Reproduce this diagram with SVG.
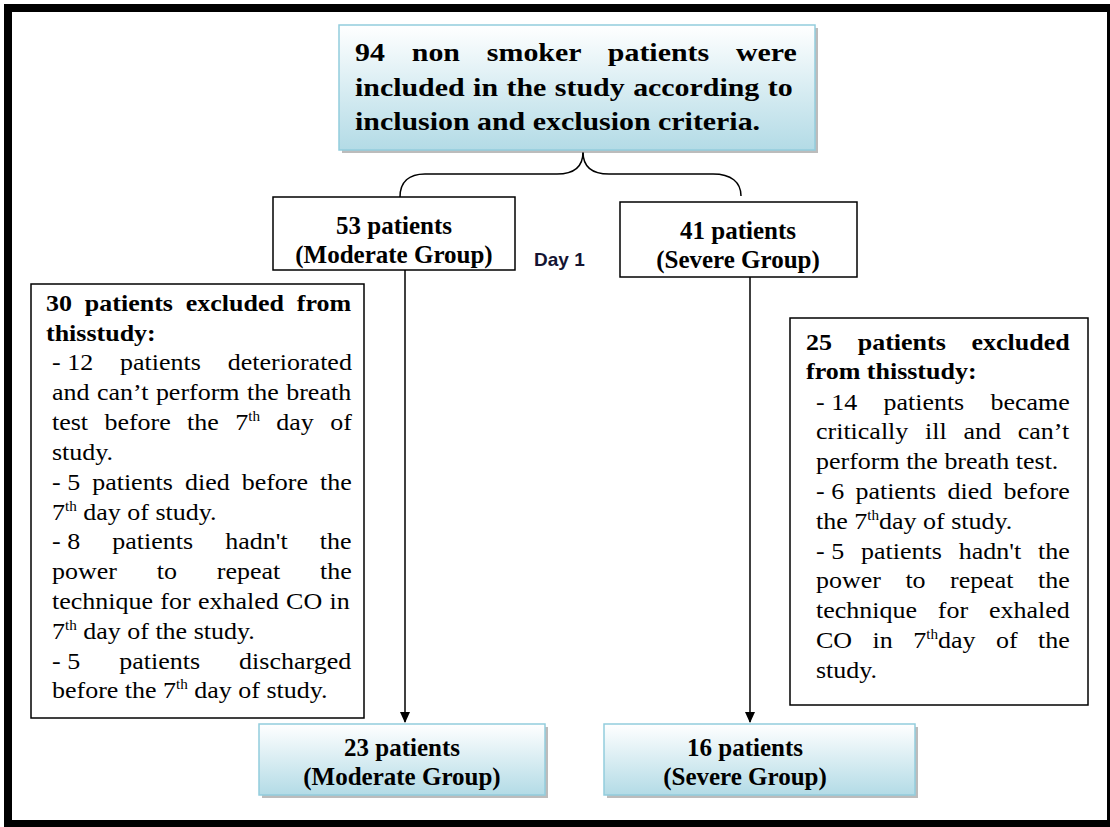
<svg xmlns="http://www.w3.org/2000/svg" width="1110" height="827" viewBox="0 0 1110 827">
<defs>
<linearGradient id="blueGrad" x1="0" y1="0" x2="0" y2="1">
<stop offset="0" stop-color="#ffffff"/>
<stop offset="1" stop-color="#b3dbe6"/>
</linearGradient>
<marker id="arrow" markerWidth="12" markerHeight="14" refX="10" refY="6" orient="auto" markerUnits="userSpaceOnUse">
<path d="M0,1 L11,6 L0,11 Z" fill="#000"/>
</marker>
</defs>
<style>
.blue{fill:url(#blueGrad);stroke:#93cddd;stroke-width:1.5}
.shadow{fill:#8f8f8f;opacity:0.6}
.plain{fill:#fff;stroke:#000;stroke-width:1.5}
.t{font-family:"Liberation Serif","Times New Roman",serif;fill:#000}
.b{font-weight:bold}
.body{font-size:24px}
.box{font-size:25px;font-weight:bold;text-anchor:middle}
.top{font-size:26px;font-weight:bold}
.day{font-family:"Liberation Sans",Arial,sans-serif;font-weight:bold;font-size:19px;fill:#141432}
.sup{font-size:14px}
.dash{word-spacing:0}
.conn{fill:none;stroke:#000;stroke-width:1.5}
</style>
<rect x="4" y="4" width="1106" height="823" fill="#000"/>
<rect x="12" y="12" width="1095" height="808" fill="#fff"/>

<g id="connectors">
<path class="conn" d="M583,152 C583,166 575,174 557,174 L425,174 C409,174 400,182 400,197"/>
<path class="conn" d="M583,152 C583,166 591,174 609,174 L713,174 C731,174 741,182 741,196"/>
<line class="conn" x1="405" y1="270" x2="405" y2="722" marker-end="url(#arrow)"/>
<line class="conn" x1="750" y1="277" x2="750" y2="722" marker-end="url(#arrow)"/>
</g>

<g id="node-top">
<rect class="shadow" x="342" y="28" width="476" height="125"/>
<rect class="blue" x="339" y="25" width="476" height="125"/>
<text class="t top" transform="translate(355,61) scale(1.15,1)" word-spacing="16.9">94 non smoker patients were</text>
<text class="t top" transform="translate(355,96) scale(1.15,1)" word-spacing="0.9">included in the study according to</text>
<text class="t top" transform="translate(355,130) scale(1.15,1)">inclusion and exclusion criteria.</text>
</g>

<g id="node-moderate-day1">
<rect class="plain" x="273" y="197" width="242" height="73"/>
<text class="t box" x="394" y="234">53 patients</text>
<text class="t box" x="394" y="263">(Moderate Group)</text>
</g>

<g id="label-day1">
<text class="day" x="534" y="266">Day 1</text>
</g>

<g id="node-severe-day1">
<rect class="plain" x="620" y="202" width="237" height="75"/>
<text class="t box" x="738" y="239">41 patients</text>
<text class="t box" x="738" y="268">(Severe Group)</text>
</g>

<g id="node-excluded-moderate">
<rect class="plain" x="31" y="284" width="333" height="434"/>
<text class="t body b" transform="translate(46,311) scale(1.083,1)" word-spacing="5.9">30 patients excluded from</text>
<text class="t body b" transform="translate(46,341) scale(1.083,1)">thisstudy:</text>
<text class="t body" transform="translate(52,370) scale(1.083,1)" word-spacing="18.9"><tspan class="dash">- </tspan>12 patients deteriorated</text>
<text class="t body" transform="translate(52,400) scale(1.083,1)" word-spacing="0.9">and can’t perform the breath</text>
<text class="t body" transform="translate(52,430) scale(1.083,1)" word-spacing="9.1">test before the 7<tspan class="sup" dy="-9">th</tspan><tspan dy="9"> day of</tspan></text>
<text class="t body" transform="translate(52,460) scale(1.083,1)">study.</text>
<text class="t body" transform="translate(52,490) scale(1.083,1)" word-spacing="5.1"><tspan class="dash">- </tspan>5 patients died before the</text>
<text class="t body" transform="translate(52,520) scale(1.083,1)">7<tspan class="sup" dy="-9">th</tspan><tspan dy="9"> day of study.</tspan></text>
<text class="t body" transform="translate(52,549) scale(1.083,1)" word-spacing="23.7"><tspan class="dash">- </tspan>8 patients hadn't the</text>
<text class="t body" transform="translate(52,579) scale(1.083,1)" word-spacing="30.8">power to repeat the</text>
<text class="t body" transform="translate(52,609) scale(1.083,1)" word-spacing="0.8">technique for exhaled CO in</text>
<text class="t body" transform="translate(52,639) scale(1.083,1)">7<tspan class="sup" dy="-9">th</tspan><tspan dy="9"> day of the study.</tspan></text>
<text class="t body" transform="translate(52,669) scale(1.083,1)" word-spacing="30.1"><tspan class="dash">- </tspan>5 patients discharged</text>
<text class="t body" transform="translate(52,698) scale(1.083,1)">before the 7<tspan class="sup" dy="-9">th</tspan><tspan dy="9"> day of study.</tspan></text>
</g>

<g id="node-excluded-severe">
<rect class="plain" x="790" y="318" width="298" height="387"/>
<text class="t body b" transform="translate(806,350) scale(1.083,1)" word-spacing="17.8">25 patients excluded</text>
<text class="t body b" transform="translate(806,379) scale(1.083,1)">from thisstudy:</text>
<text class="t body" transform="translate(816,410) scale(1.083,1)" word-spacing="18.3"><tspan class="dash">- </tspan>14 patients became</text>
<text class="t body" transform="translate(816,439) scale(1.083,1)" word-spacing="9.5">critically ill and can’t</text>
<text class="t body" transform="translate(816,469) scale(1.083,1)">perform the breath test.</text>
<text class="t body" transform="translate(816,499) scale(1.083,1)" word-spacing="4.4"><tspan class="dash">- </tspan>6 patients died before</text>
<text class="t body" transform="translate(816,529) scale(1.083,1)">the 7<tspan class="sup" dy="-9">th</tspan><tspan dy="9">day of study.</tspan></text>
<text class="t body" transform="translate(816,559) scale(1.083,1)" word-spacing="9.6"><tspan class="dash">- </tspan>5 patients hadn't the</text>
<text class="t body" transform="translate(816,588) scale(1.083,1)" word-spacing="16.6">power to repeat the</text>
<text class="t body" transform="translate(816,618) scale(1.083,1)" word-spacing="13.25">technique for exhaled</text>
<text class="t body" transform="translate(816,648) scale(1.083,1)" word-spacing="12.9">CO in 7<tspan class="sup" dy="-9">th</tspan><tspan dy="9">day of the</tspan></text>
<text class="t body" transform="translate(816,678) scale(1.083,1)">study.</text>
</g>

<g id="node-moderate-final">
<rect class="shadow" x="262" y="727" width="286" height="71"/>
<rect class="blue" x="259" y="724" width="286" height="71"/>
<text class="t box" x="402" y="756">23 patients</text>
<text class="t box" x="402" y="785">(Moderate Group)</text>
</g>

<g id="node-severe-final">
<rect class="shadow" x="607" y="727" width="311" height="71"/>
<rect class="blue" x="604" y="724" width="311" height="71"/>
<text class="t box" x="745" y="756">16 patients</text>
<text class="t box" x="745" y="785">(Severe Group)</text>
</g>
</svg>
